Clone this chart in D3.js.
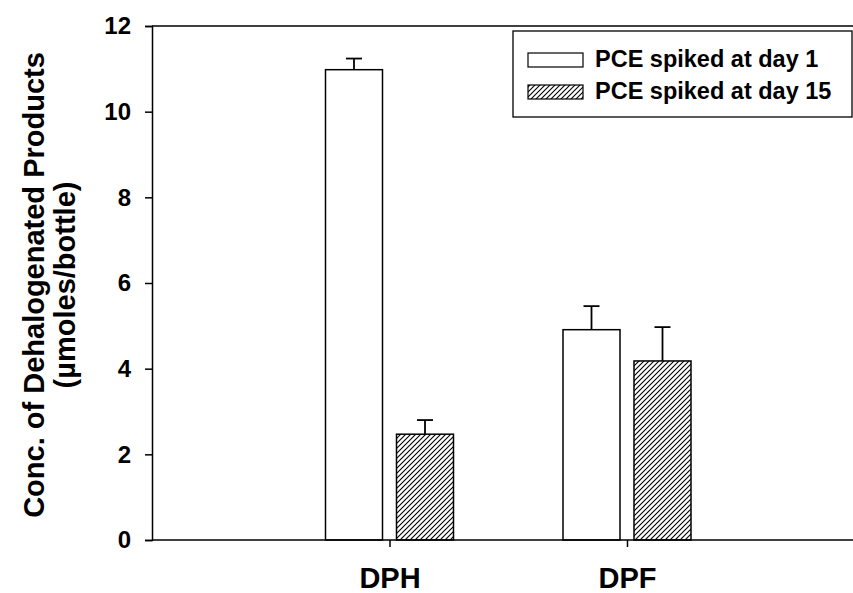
<!DOCTYPE html>
<html>
<head>
<meta charset="utf-8">
<script src="https://cdn.jsdelivr.net/npm/d3@7"></script>
<style>
  html, body { margin: 0; padding: 0; background: #fff; }
  svg { display: block; font-family: Arial, "Liberation Sans", sans-serif; font-weight: bold; }
</style>
</head>
<body>
<svg id="chart" width="853" height="593"></svg>
<script>
// Dehalogenated product concentrations (µmoles/bottle)
const categories = ["DPH", "DPF"];
const seriesNames = ["PCE spiked at day 1", "PCE spiked at day 15"];
const day1Values = [10.98, 4.91];
const day1Errors = [0.26, 0.55];
const day15Values = [2.47, 4.18];
const day15Errors = [0.33, 0.79];
const yTicks = [0, 2, 4, 6, 8, 10, 12];

const svg = d3.select("#chart");
const W = 853, H = 593;
const FONT = "Arial, 'Liberation Sans', sans-serif";

const margin = { left: 152, top: 26, bottom: 53 };
const plotBottom = H - margin.bottom;

// category positions sit at 1 and 2 on a 0..3 axis
const x = d3.scaleLinear().domain([0, 3]).range([margin.left, margin.left + 3 * 237.5]);
const y = d3.scaleLinear().domain([0, 12]).range([plotBottom, margin.top]);

const barW = 57, gap = 14;

// hatch pattern for the day-15 series
const defs = svg.append("defs");
const pat = defs.append("pattern")
  .attr("id", "hatch")
  .attr("patternUnits", "userSpaceOnUse")
  .attr("width", 5).attr("height", 5);
pat.append("rect").attr("width", 5).attr("height", 5).attr("fill", "#fff");
pat.append("path")
  .attr("d", "M-1,1 l2,-2 M0,5 l5,-5 M4,6 l2,-2")
  .attr("stroke", "#000").attr("stroke-width", 1.1);

// top frame line
svg.append("line")
  .attr("x1", margin.left).attr("x2", W)
  .attr("y1", y(12)).attr("y2", y(12))
  .attr("stroke", "#000").attr("stroke-width", 1.5);

// bars
const rows = categories.map((c, i) => ({
  cat: c, i: i + 1,
  series: [
    { v: day1Values[i], e: day1Errors[i], fill: "#fff", off: -(gap / 2 + barW) },
    { v: day15Values[i], e: day15Errors[i], fill: "url(#hatch)", off: gap / 2 }
  ]
}));

const g = svg.append("g");
rows.forEach(r => {
  r.series.forEach(s => {
    const x0 = x(r.i) + s.off;
    // error bar (upper only)
    g.append("line")
      .attr("x1", x0 + barW / 2).attr("x2", x0 + barW / 2)
      .attr("y1", y(s.v)).attr("y2", y(s.v + s.e))
      .attr("stroke", "#000").attr("stroke-width", 1.8);
    g.append("line")
      .attr("x1", x0 + barW / 2 - 8).attr("x2", x0 + barW / 2 + 8)
      .attr("y1", y(s.v + s.e)).attr("y2", y(s.v + s.e))
      .attr("stroke", "#000").attr("stroke-width", 1.8);
    g.append("rect")
      .attr("x", x0).attr("y", y(s.v))
      .attr("width", barW).attr("height", y(0) - y(s.v))
      .attr("fill", s.fill)
      .attr("stroke", "#000").attr("stroke-width", 1.5);
  });
});

// y axis
const yAxis = svg.append("g")
  .attr("transform", `translate(${margin.left},0)`)
  .call(d3.axisLeft(y).tickValues(yTicks).tickFormat(d3.format("d")).tickSizeOuter(0).tickSize(7).tickPadding(14));
yAxis.select(".domain").attr("stroke", "#000").attr("stroke-width", 1.5);
yAxis.selectAll(".tick line").attr("stroke", "#000").attr("stroke-width", 1.5);
yAxis.selectAll(".tick text")
  .attr("font-size", 24).attr("font-weight", "bold")
  .attr("font-family", FONT).attr("fill", "#000");

// x axis
const xAxis = svg.append("g")
  .attr("transform", `translate(0,${plotBottom})`)
  .call(d3.axisBottom(x).tickValues([1, 2]).tickFormat(d => categories[d - 1]).tickSizeOuter(0).tickSize(7).tickPadding(20));
xAxis.select(".domain").attr("d", `M${margin.left},0H${W}`).attr("stroke", "#000").attr("stroke-width", 1.5);
xAxis.selectAll(".tick line").attr("stroke", "#000").attr("stroke-width", 1.5);
xAxis.selectAll(".tick text")
  .attr("font-size", 29).attr("font-weight", "bold")
  .attr("font-family", FONT).attr("fill", "#000");

// y axis title
const yMid = (y(0) + y(12)) / 2;
const title = svg.append("text")
  .attr("transform", `translate(44,${yMid + 2}) rotate(-90)`)
  .attr("text-anchor", "middle")
  .attr("font-size", 29);
title.append("tspan").attr("x", 0).attr("dy", 0).text("Conc. of Dehalogenated Products");
title.append("tspan").attr("x", 0).attr("dy", 31).text("(µmoles/bottle)");

// legend
const leg = svg.append("g");
leg.append("rect")
  .attr("x", 513).attr("y", 31).attr("width", 339).attr("height", 86)
  .attr("fill", "#fff").attr("stroke", "#000").attr("stroke-width", 1.3);
const fills = ["#fff", "url(#hatch)"];
seriesNames.forEach((n, i) => {
  const yy = 53 + i * 32;
  leg.append("rect")
    .attr("x", 528).attr("y", yy).attr("width", 55).attr("height", 14)
    .attr("fill", fills[i]).attr("stroke", "#000").attr("stroke-width", 1.2);
  leg.append("text")
    .attr("x", 595).attr("y", yy + 14)
    .attr("font-size", 23.5).text(n);
});
</script>
</body>
</html>
